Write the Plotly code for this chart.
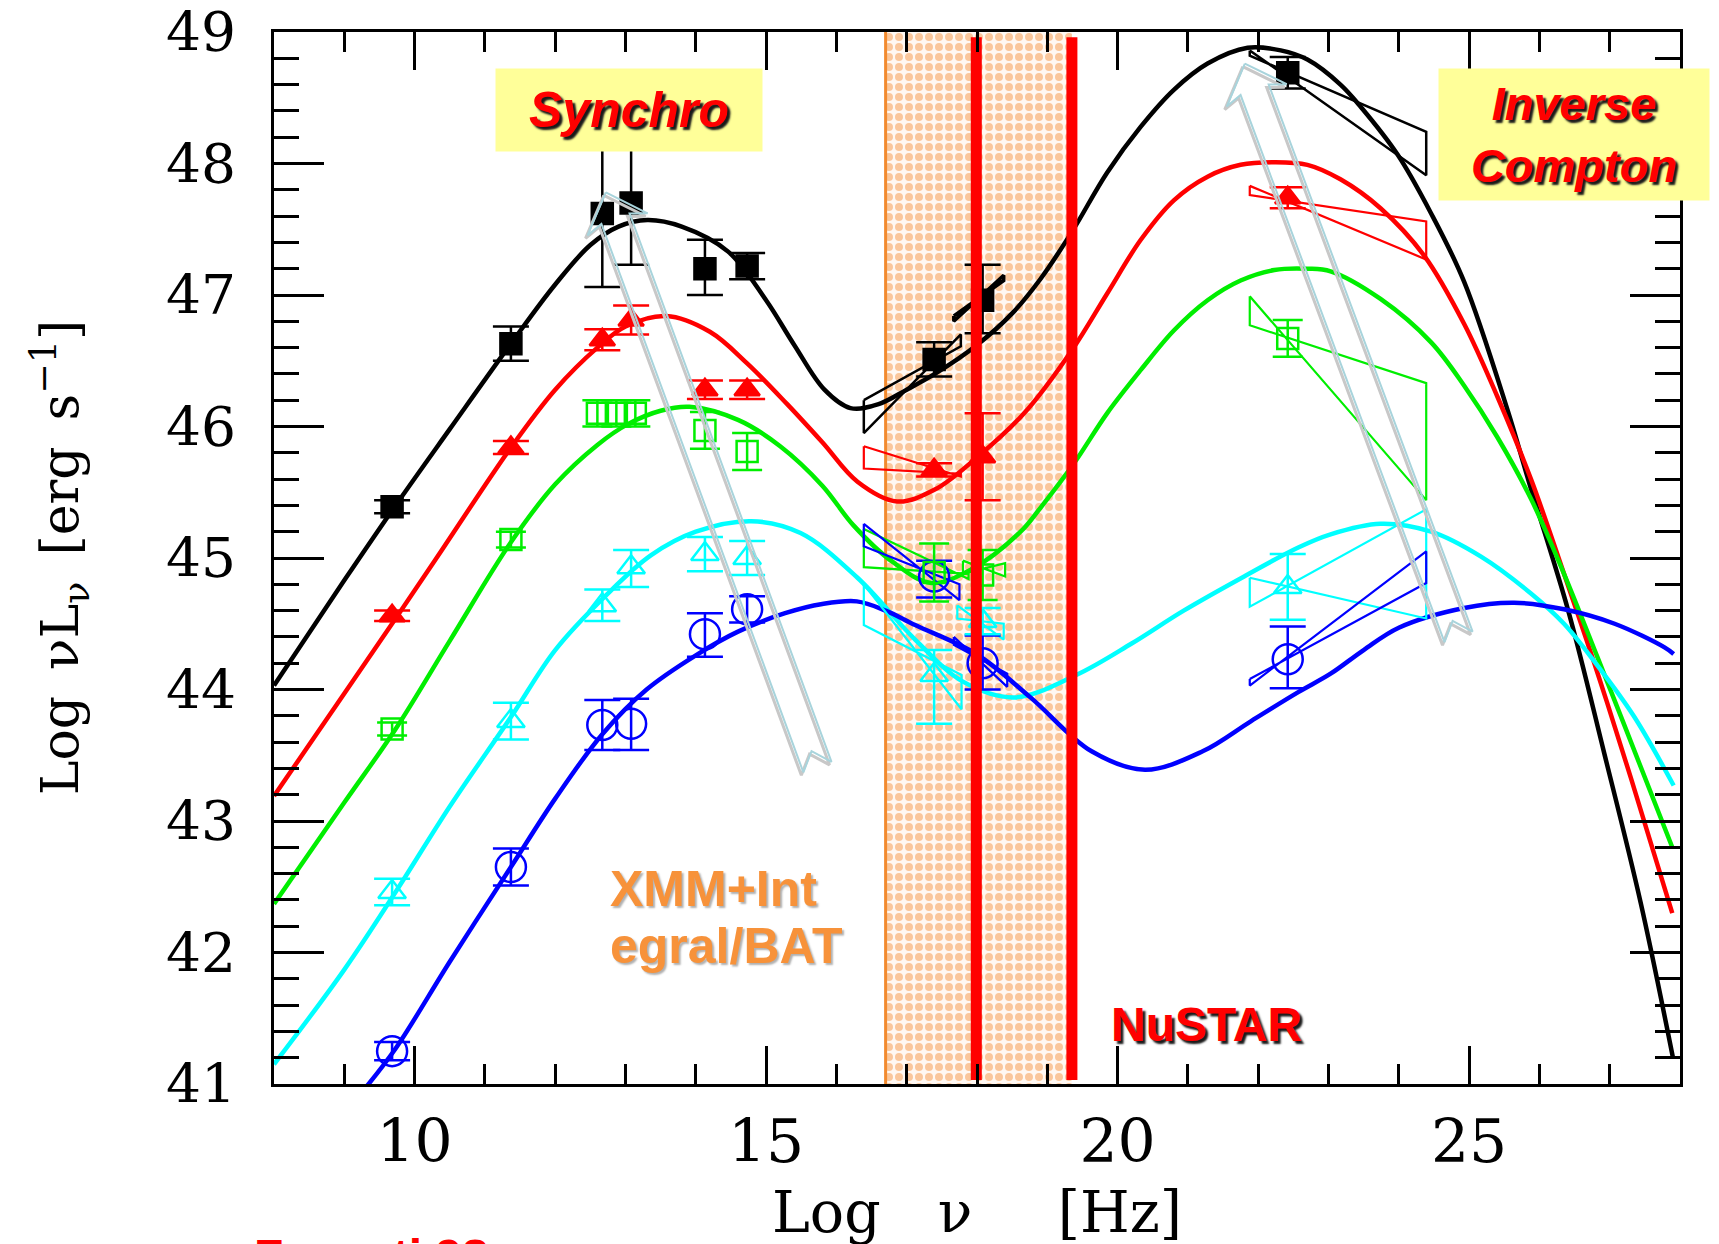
import numpy as np
import plotly.graph_objects as go

# ------------------------------------------------------------------ data
# model curves (log nu, log nuL_nu)
nu_black = [8.0, 9.0, 9.73, 10.5, 11.37, 12.0, 12.5, 12.9, 13.31, 13.8, 14.46, 15.0, 15.4, 15.83, 16.2, 16.6, 17.0,
            17.4, 18.0, 18.5, 18.9, 19.35, 19.85, 20.33, 20.8, 21.28, 21.85, 22.32, 22.7, 23.17, 23.46, 23.98, 24.46,
            24.93, 25.55, 25.85, 26.41, 26.92, 27.44, 27.9]
L_black = [44.03, 44.83, 45.4, 45.98, 46.63, 47.08, 47.38, 47.52, 47.57, 47.52, 47.33, 46.96, 46.62, 46.28, 46.14,
           46.17, 46.28, 46.4, 46.62, 46.86, 47.12, 47.48, 47.93, 48.28, 48.56, 48.76, 48.88, 48.86, 48.79, 48.6,
           48.43, 48.07, 47.62, 47.1, 46.12, 45.58, 44.6, 43.52, 42.38, 41.2]

nu_red = [8.0, 9.0, 9.73, 10.3, 11.37, 12.0, 12.6, 13.0, 13.58, 14.2, 14.73, 15.3, 15.8, 16.3, 16.86, 17.4, 17.99,
          18.67, 19.35, 19.85, 20.33, 20.8, 21.28, 21.75, 22.23, 22.7, 23.17, 23.74, 24.36, 24.93, 25.4, 25.88,
          26.35, 26.83, 27.3, 27.89]
L_red = [43.19, 43.97, 44.54, 44.99, 45.84, 46.28, 46.6, 46.76, 46.84, 46.72, 46.48, 46.17, 45.88, 45.58, 45.43,
         45.52, 45.76, 46.1, 46.58, 47.01, 47.42, 47.72, 47.9, 47.99, 48.01, 47.99, 47.88, 47.66, 47.3, 46.78,
         46.23, 45.6, 44.88, 44.12, 43.33, 42.3]

nu_green = [8.0, 9.0, 9.73, 10.5, 11.37, 12.0, 12.6, 13.04, 13.5, 13.91, 14.6, 15.2, 15.8, 16.24, 16.8, 17.35,
            17.94, 18.62, 18.9, 19.38, 19.85, 20.33, 20.8, 21.28, 21.75, 22.23, 22.7, 23.03, 23.74, 24.46, 24.93,
            25.4, 25.88, 26.35, 26.83, 27.2, 27.89]
L_green = [42.37, 43.14, 43.7, 44.37, 45.12, 45.56, 45.86, 46.02, 46.12, 46.15, 46.05, 45.85, 45.55, 45.25, 44.97,
           44.81, 44.92, 45.2, 45.38, 45.72, 46.1, 46.43, 46.73, 46.96, 47.11, 47.19, 47.2, 47.18, 46.97, 46.64,
           46.31, 45.92, 45.45, 44.88, 44.24, 43.74, 42.8]

nu_cyan = [8.0, 9.0, 9.73, 10.5, 11.37, 12.0, 12.73, 13.36, 14.0, 14.79, 15.49, 16.3, 17.12, 17.8, 18.53, 19.41,
           20.2, 20.94, 21.8, 22.57, 23.03, 23.74, 24.46, 25.17, 25.88, 26.35, 26.8, 27.34, 27.91]
L_cyan = [41.15, 41.87, 42.46, 43.11, 43.79, 44.3, 44.72, 45.02, 45.2, 45.28, 45.19, 44.85, 44.38, 44.06, 43.94,
          44.11, 44.35, 44.6, 44.86, 45.08, 45.18, 45.26, 45.2, 45.01, 44.73, 44.5, 44.2, 43.8, 43.27]

nu_blue = [9.3, 9.73, 10.5, 11.37, 12.0, 12.67, 13.3, 14.0, 14.6, 15.27, 15.8, 16.29, 16.7, 17.12, 17.99, 18.76,
           19.63, 20.39, 21.21, 21.9, 22.57, 23.03, 23.5, 24.0, 24.93, 25.64, 26.35, 27.07, 27.78, 27.91]
L_blue = [40.97, 41.27, 41.93, 42.65, 43.17, 43.66, 44.0, 44.26, 44.44, 44.58, 44.65, 44.67, 44.6, 44.49, 44.27,
          43.94, 43.53, 43.39, 43.53, 43.76, 43.98, 44.12, 44.3, 44.47, 44.62, 44.66, 44.61, 44.5, 44.32, 44.27]

# observed averaged SED points
nu_obs = [9.68, 11.37, 12.67, 13.08, 14.13, 14.73, 17.39, 18.08, 22.42]
obs_black = [45.39, 46.63, 47.62, 47.70, 47.20, 47.22, 46.51, 46.96, 48.69]
obs_black_ep = [0.05, 0.13, 0.85, 0.80, 0.22, 0.10, 0.13, 0.27, 0.12]
obs_black_em = [0.05, 0.13, 0.56, 0.47, 0.20, 0.10, 0.13, 0.25, 0.12]
obs_red = [44.56, 45.84, 46.66, 46.81, 46.28, 46.28, 45.67, 45.77, 47.74]
obs_red_e = [0.04, 0.05, 0.08, 0.11, 0.07, 0.07, 0.05, 0.33, 0.08]
nu_obs_green = [9.68, 11.37, 12.6, 12.87, 13.14, 14.13, 14.73, 17.39, 18.08, 22.42]
obs_green = [43.70, 45.14, 46.10, 46.10, 46.10, 45.97, 45.81, 44.89, 44.87, 46.67]
obs_green_e = [0.05, 0.06, 0.10, 0.10, 0.10, 0.14, 0.14, 0.22, 0.19, 0.14]
obs_cyan = [42.46, 43.76, 44.64, 44.93, 45.03, 45.00, 44.11, 44.52, 44.78]
obs_cyan_ep = [0.10, 0.14, 0.12, 0.13, 0.13, 0.13, 0.19, 0.10, 0.25]
obs_cyan_em = [0.10, 0.14, 0.12, 0.15, 0.13, 0.13, 0.37, 0.10, 0.25]
obs_blue = [41.25, 42.65, 43.73, 43.74, 44.42, 44.61, 44.86, 44.20, 44.23]
obs_blue_ep = [0.07, 0.14, 0.19, 0.19, 0.16, 0.10, 0.12, 0.21, 0.25]
obs_blue_em = [0.07, 0.14, 0.19, 0.20, 0.17, 0.10, 0.16, 0.20, 0.22]

# spectral "bow-ties": x range and corners [upper-left, lower-right, upper-right, lower-left]
bow_x_black = [16.39, 17.77]; bow_L_black = [46.20, 46.61, 46.70, 45.95]
bow_x_black2 = [17.67, 18.38]; bow_L_black2 = [46.84, 47.11, 47.15, 46.80]
bow_x_red = [16.39, 17.77]; bow_L_red = [45.85, 45.62, 45.64, 45.68]
bow_x_green = [16.39, 17.88]; bow_L_green = [45.22, 44.84, 44.88, 44.93]
bow_x_green2 = [17.80, 18.40]; bow_L_green2 = [44.98, 44.86, 44.96, 44.88]
bow_x_cyan = [16.39, 17.78]; bow_L_cyan = [44.80, 43.85, 44.11, 44.49]
bow_x_cyan2 = [17.72, 18.38]; bow_L_cyan2 = [44.64, 44.38, 44.50, 44.54]
bow_x_blue = [16.39, 17.75]; bow_L_blue = [45.26, 44.68, 44.80, 45.09]
bow_x_blue2 = [17.67, 18.43]; bow_L_blue2 = [44.40, 44.02, 44.12, 44.34]
bow_x_gamma = [21.88, 24.39]
bowg_L_black = [48.86, 47.91, 48.24, 48.82]
bowg_L_red = [47.83, 47.27, 47.56, 47.76]
bowg_L_green = [46.99, 45.44, 46.33, 46.77]
bowg_L_cyan = [44.85, 44.54, 45.37, 44.63]
bowg_L_blue = [44.08, 44.81, 45.05, 44.03]

# sequence arrows (tip and tail)
arrow_tip_nu = [12.72, 21.81]
arrow_tip_L = [47.78, 48.76]
arrow_tail_nu = [15.73, 24.85]
arrow_tail_L = [43.41, 44.40]

# energy bands
band_nu = [16.70, 19.35]          # XMM + Integral/BAT
nustar_nu = [17.99, 19.35]        # NuSTAR band limits

x_range = [8, 28]
y_range = [41, 49]
x_ticks = [10, 15, 20, 25]
y_ticks = [41, 42, 43, 44, 45, 46, 47, 48, 49]

# ------------------------------------------------------------------ layout constants
W, H = 1719, 1244
ML, MR, MT, MB = 274, 39, 32, 160
PW, PH = W - ML - MR, H - MT - MB
PXX = PW / (x_range[1] - x_range[0])
PXY = PH / (y_range[1] - y_range[0])

BLACK, RED, GREEN, CYAN, BLUE = "#000000", "#ff0000", "#00ee00", "#00ffff", "#0000ff"

fig = go.Figure()

# XMM+Integral/BAT band with dotted fill
fig.add_trace(go.Scatter(
    x=[band_nu[0], band_nu[1], band_nu[1], band_nu[0], band_nu[0]],
    y=[y_range[0], y_range[0], y_range[1], y_range[1], y_range[0]],
    mode="lines", fill="toself", line=dict(width=0, color="rgba(0,0,0,0)"),
    fillcolor="#fff6ee",
    fillpattern=dict(shape=".", fgcolor="#f59645", bgcolor="#fff8f2", size=10, solidity=0.5),
    hoverinfo="skip", showlegend=False))
fig.add_trace(go.Scatter(x=[band_nu[0], band_nu[0]], y=y_range, mode="lines",
                         line=dict(color="#f28a2e", width=3), hoverinfo="skip", showlegend=False))

# model curves
for nu, L, c in [(nu_black, L_black, BLACK), (nu_red, L_red, RED), (nu_green, L_green, GREEN),
                 (nu_cyan, L_cyan, CYAN), (nu_blue, L_blue, BLUE)]:
    fig.add_trace(go.Scatter(x=nu, y=L, mode="lines", line=dict(color=c, width=4.5, shape="spline", smoothing=1.0),
                             hoverinfo="skip", showlegend=False))

# bow-ties
def bowtie(xr, Ls, color, width=2.2):
    fig.add_trace(go.Scatter(x=[xr[0], xr[1], xr[1], xr[0], xr[0]],
                             y=[Ls[0], Ls[1], Ls[2], Ls[3], Ls[0]],
                             mode="lines", line=dict(color=color, width=width),
                             hoverinfo="skip", showlegend=False))

bowtie(bow_x_black, bow_L_black, BLACK, 2.5)
bowtie(bow_x_black2, bow_L_black2, BLACK, 3.5)
bowtie(bow_x_red, bow_L_red, RED)
bowtie(bow_x_green, bow_L_green, GREEN)
bowtie(bow_x_green2, bow_L_green2, GREEN)
bowtie(bow_x_cyan, bow_L_cyan, CYAN)
bowtie(bow_x_cyan2, bow_L_cyan2, CYAN)
bowtie(bow_x_blue, bow_L_blue, BLUE)
bowtie(bow_x_blue2, bow_L_blue2, BLUE)
bowtie(bow_x_gamma, bowg_L_black, BLACK, 2.5)
bowtie(bow_x_gamma, bowg_L_red, RED)
bowtie(bow_x_gamma, bowg_L_green, GREEN)
bowtie(bow_x_gamma, bowg_L_cyan, CYAN)
bowtie(bow_x_gamma, bowg_L_blue, BLUE)

# observed points with error bars
def points(x, y, ep, em, color, symbol, size, cap=18):
    fig.add_trace(go.Scatter(
        x=x, y=y, mode="markers",
        marker=dict(symbol=symbol, size=size, color=color, line=dict(color=color, width=2.5)),
        error_y=dict(type="data", array=ep, arrayminus=em, color=color, thickness=2.5, width=cap),
        hoverinfo="skip", showlegend=False))

points(nu_obs, obs_blue, obs_blue_ep, obs_blue_em, BLUE, "circle-open", 30)
points(nu_obs, obs_cyan, obs_cyan_ep, obs_cyan_em, CYAN, "triangle-up-open", 24)
points(nu_obs_green, obs_green, obs_green_e, obs_green_e, GREEN, "square-open", 21, 15)
points(nu_obs, obs_red, obs_red_e, obs_red_e, RED, "triangle-up", 22)
points(nu_obs, obs_black, obs_black_ep, obs_black_em, BLACK, "square", 21)

# hollow sequence arrows
def arrow_poly(tx, ty, ex, ey, dx_px=0.0, dy_px=0.0):
    p0 = np.array([(tx - x_range[0]) * PXX, (y_range[1] - ty) * PXY])
    p1 = np.array([(ex - x_range[0]) * PXX, (y_range[1] - ey) * PXY])
    d = p1 - p0
    Ln = np.hypot(*d)
    u = d / Ln
    n = np.array([u[1], -u[0]])
    pts_un = [(0, 0), (34, -32), (28, -15), (Ln, -15), (Ln - 17, 0), (Ln, 15), (28, 15), (34, 32), (0, 0)]
    xs, ys = [], []
    for a, b in pts_un:
        p = p0 + a * u + b * n + np.array([dx_px, dy_px])
        xs.append(x_range[0] + p[0] / PXX)
        ys.append(y_range[1] - p[1] / PXY)
    return xs, ys

for i in range(len(arrow_tip_nu)):
    xs, ys = arrow_poly(arrow_tip_nu[i], arrow_tip_L[i], arrow_tail_nu[i], arrow_tail_L[i], -2, 3)
    fig.add_trace(go.Scatter(x=xs, y=ys, mode="lines", line=dict(color="#c8c8c8", width=3),
                             hoverinfo="skip", showlegend=False))
    xs, ys = arrow_poly(arrow_tip_nu[i], arrow_tip_L[i], arrow_tail_nu[i], arrow_tail_L[i])
    fig.add_trace(go.Scatter(x=xs, y=ys, mode="lines", line=dict(color="#a8d4dc", width=2),
                             hoverinfo="skip", showlegend=False))

# NuSTAR limits
for xv in nustar_nu:
    fig.add_trace(go.Scatter(x=[xv, xv], y=[41.03, 48.96], mode="lines", line=dict(color=RED, width=11),
                             hoverinfo="skip", showlegend=False))

serif = "DejaVu Serif"
sans = "Liberation Sans"

axis_common = dict(showline=True, linecolor="black", linewidth=3, mirror="allticks",
                   ticks="inside", tickcolor="black", tickwidth=2.5, showgrid=False, zeroline=False,
                   ticklabeloverflow="allow")

fig.update_xaxes(range=x_range, tickvals=x_ticks, ticklen=38, ticklabelstandoff=3,
                 tickfont=dict(family=serif, size=60, color="black"),
                 minor=dict(dtick=1, tick0=0, ticklen=20, ticks="inside", tickcolor="black", tickwidth=2.5),
                 **axis_common)
fig.update_yaxes(range=y_range, tickvals=y_ticks, ticklen=50, ticklabelstandoff=24,
                 tickfont=dict(family=serif, size=55, color="black"),
                 minor=dict(dtick=0.2, tick0=0, ticklen=25, ticks="inside", tickcolor="black", tickwidth=2.5),
                 **axis_common)

annotations = [
    # axis titles
    dict(text="Log\u2003\u03bd\u2003\u2002[Hz]", xref="paper", yref="paper", x=0.5,
         y=-(1212 - (H - MB)) / PH,
         xanchor="center", yanchor="middle", showarrow=False, font=dict(family=serif, size=57, color="black")),
    dict(text="Log\u2002\u03bdL<sub>\u03bd</sub>\u2002[erg\u2002s<sup>\u22121</sup>]", xref="paper", yref="paper",
         x=-(ML - 60) / PW, y=0.5, xanchor="center", yanchor="middle", textangle=-90, showarrow=False,
         font=dict(family=serif, size=52, color="black")),
    # labels
    dict(text="Synchro", x=13.05, y=48.41, xref="x", yref="y", showarrow=False, bgcolor="#ffff99",
         width=266, height=82, borderpad=0,
         font=dict(family=sans, size=50, color=RED, weight="bold", style="italic", shadow="3px 3px 2px #1a1a1a")),
    dict(text="Inverse<br>Compton", x=26.49, y=48.22, xref="x", yref="y", showarrow=False, bgcolor="#ffff99",
         width=270, height=131, borderpad=0,
         font=dict(family=sans, size=47, color=RED, weight="bold", style="italic", shadow="3px 3px 2px #1a1a1a")),
    dict(text="XMM+Int", x=12.75, y=42.48, xref="x", yref="y", xanchor="left", yanchor="middle", showarrow=False,
         font=dict(family=sans, size=50, color="#f7923a", weight="bold", shadow="2px 2px 2px #b0b0b0")),
    dict(text="egral/BAT", x=12.75, y=42.05, xref="x", yref="y", xanchor="left", yanchor="middle", showarrow=False,
         font=dict(family=sans, size=50, color="#f7923a", weight="bold", shadow="2px 2px 2px #b0b0b0")),
    dict(text="NuSTAR", x=21.27, y=41.45, xref="x", yref="y", xanchor="center", yanchor="middle", showarrow=False,
         font=dict(family=sans, size=48, color=RED, weight="bold", shadow="3px 3px 2px #1a1a1a")),
    dict(text="Fossati 98", xref="paper", yref="paper", x=(252 - ML) / PW, y=-(1228 - (H - MB)) / PH,
         xanchor="left", yanchor="top", showarrow=False,
         font=dict(family=sans, size=48, color=RED, weight="bold")),
]

fig.update_layout(width=W, height=H, margin=dict(l=ML, r=MR, t=MT, b=MB, autoexpand=False),
                  paper_bgcolor="white", plot_bgcolor="white", showlegend=False,
                  annotations=annotations)

fig.write_html("out.html")
